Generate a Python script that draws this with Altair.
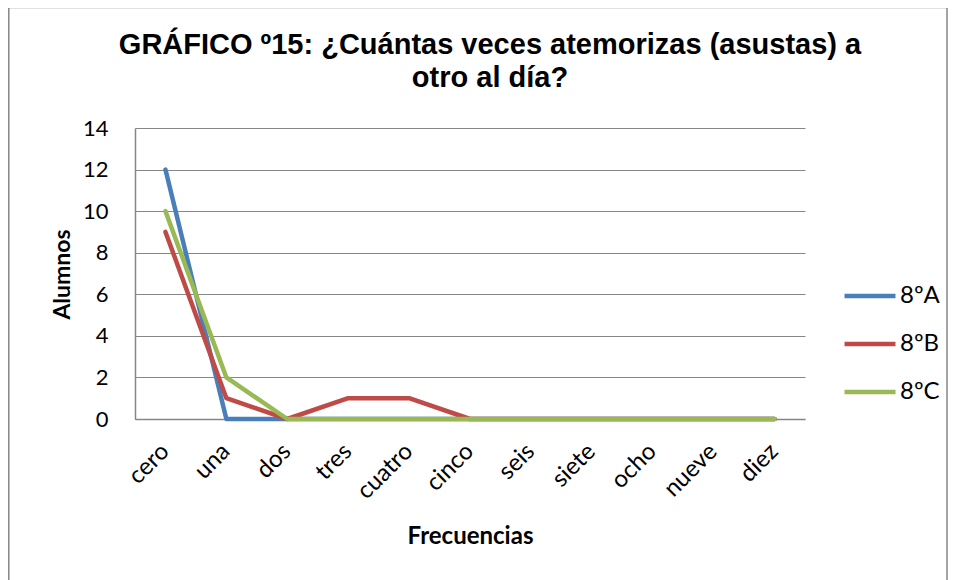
import altair as alt
import pandas as pd

categorias = ["cero", "una", "dos", "tres", "cuatro", "cinco", "seis", "siete", "ocho", "nueve", "diez"]
serie_a = [12, 0, 0, 0, 0, 0, 0, 0, 0, 0, 0]
serie_b = [9, 1, 0, 1, 1, 0, 0, 0, 0, 0, 0]
serie_c = [10, 2, 0, 0, 0, 0, 0, 0, 0, 0, 0]
grupos = ["8ºA", "8ºB", "8ºC"]
colores = ["#4A7EBB", "#BE4B48", "#98B954"]

rows = []
for g, vals in zip(grupos, [serie_a, serie_b, serie_c]):
    for i, (c, v) in enumerate(zip(categorias, vals)):
        rows.append({"Frecuencias": c, "Alumnos": v, "Grupo": g, "orden": i})
df = pd.DataFrame(rows)

label_font = "Lato"

lines = alt.Chart(df).mark_line(strokeWidth=4.5, strokeCap="round", strokeJoin="round").encode(
    x=alt.X("Frecuencias:N", sort=categorias,
            scale=alt.Scale(padding=0.5),
            axis=alt.Axis(title="Frecuencias", labelAngle=-45, ticks=False,
                          domain=True, domainColor="#868686", domainWidth=1.5,
                          labelFont=label_font, labelFontSize=24, labelColor="#000000",
                          labelPadding=20, labelOffset=-9,
                          titleFont=label_font, titleFontSize=24, titleFontWeight="bold",
                          titleColor="#000000", titleY=117, titleBaseline="middle")),
    y=alt.Y("Alumnos:Q", scale=alt.Scale(domain=[0, 14]),
            axis=alt.Axis(title="Alumnos", values=list(range(0, 15, 2)), ticks=False,
                          domain=True, domainColor="#868686", domainWidth=1.5,
                          grid=True, gridColor="#868686", gridWidth=1.2,
                          labelFont=label_font, labelFontSize=22, labelColor="#000000",
                          labelPadding=27,
                          titleFont=label_font, titleFontSize=23, titleFontWeight="bold",
                          titleColor="#000000", titleX=-73, titleY=146,
                          titleAngle=-90, titleBaseline="middle")),
    color=alt.Color("Grupo:N", scale=alt.Scale(domain=grupos, range=colores),
                    legend=alt.Legend(title=None, orient="none", legendX=707, legendY=140,
                                      symbolType="stroke", symbolSize=2600,
                                      symbolStrokeWidth=4.5, rowPadding=8,
                                      labelFont=label_font, labelFontSize=24,
                                      labelColor="#000000", labelOffset=2)),
    order="orden:Q",
)

border = alt.Chart(pd.DataFrame({"a": [0]})).mark_rect(
    fill=None, stroke="#868686", strokeWidth=1.5
).encode(
    x=alt.value(-126.2), x2=alt.value(812), y=alt.value(-120.5), y2=alt.value(470)
)

chart = alt.layer(lines, border).properties(
    width=670,
    height=291,
    padding={"left": 127, "top": 120, "right": 143, "bottom": 161},
    autosize=alt.AutoSizeParams(type="none"),
    title=alt.TitleParams(
        ["GRÁFICO º15: ¿Cuántas veces atemorizas (asustas) a", "otro al día?"],
        font="Liberation Sans", fontSize=29, fontWeight="bold", color="#000000",
        anchor="middle", dx=20, offset=0, dy=86, lineHeight=33,
    ),
).configure_view(stroke=None)

chart.save("out.html", embed_options={"renderer": "svg", "actions": False})
